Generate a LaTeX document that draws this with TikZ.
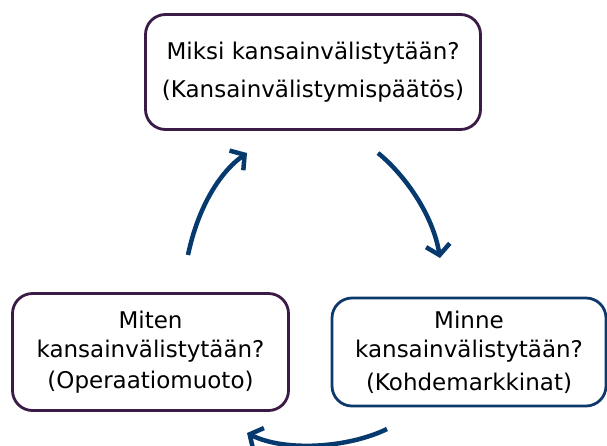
\documentclass[tikz,border=0pt]{standalone}
\usepackage{fontspec}
\setmainfont{DejaVu Sans}
\usetikzlibrary{arrows.meta}
\definecolor{boxpurple}{HTML}{3B1A45}
\definecolor{boxblue}{HTML}{0E3A6B}
\definecolor{arrowblue}{HTML}{063A6E}
\tikzset{
  box/.style={draw, line width=2.8pt, rounded corners=20pt, fill=white, align=center,
    inner sep=0pt, font=\fontsize{23}{29}\selectfont, text=black},
  cyc/.style={draw=arrowblue, line width=4.5pt, -{Straight Barb[length=10pt,width=24pt,line width=4.5pt]}}
}
\begin{document}
\begin{tikzpicture}[x=1pt,y=-1pt]
\useasboundingbox (0,0) rectangle (607,445);
\node[box, draw=boxpurple, minimum width=335pt, minimum height=115pt, font=\fontsize{23}{38}\selectfont] (top) at (313,72)
  {Miksi kansainvälistytään?\\(Kansainvälistymispäätös)};
\node[box, draw=boxpurple, minimum width=276pt, minimum height=117pt] (left) at (150.5,352)
  {Miten\\kansainvälistytään?\\[2pt](Operaatiomuoto)};
\node[box, draw=boxblue, minimum width=274pt, minimum height=108pt] (right) at (469,352)
  {Minne\\kansainvälistytään?\\[4pt](Kohdemarkkinat)};
\coordinate (a1s) at (188,255);
\coordinate (a1e) at (247,153);
\coordinate (a2s) at (378,153);
\coordinate (a2e) at (440,258);
\coordinate (a3s) at (387,429);
\coordinate (a3e) at (247,433);
\draw[cyc] (a1s) .. controls (198,207) and (220,172) .. (a1e);
\draw[cyc] (a2s) .. controls (405,175) and (433,215) .. (a2e);
\draw[cyc] (a3s) .. controls (348,448) and (285,452) .. (a3e);
\end{tikzpicture}
\end{document}
